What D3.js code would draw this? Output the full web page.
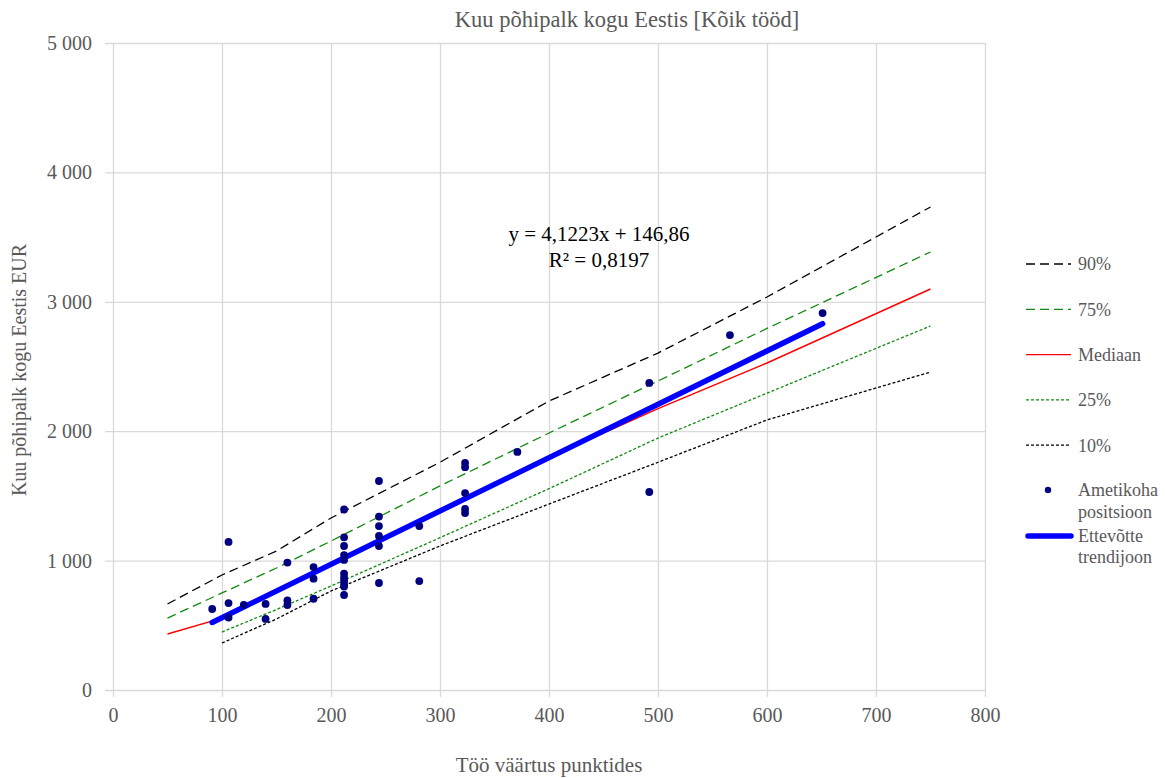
<!DOCTYPE html>
<html>
<head>
<meta charset="utf-8">
<script src="https://cdn.jsdelivr.net/npm/d3@7"></script>
<style>
  body { margin: 0; background: #fff; }
  text { font-family: "Palatino Linotype", "Book Antiqua", "Liberation Serif", serif; }
</style>
</head>
<body>
<svg id="chart" width="1165" height="778"></svg>
<script>

var percentX = [50, 100, 150, 200, 300, 400, 500, 600, 750];
var p90    = [665, 889, 1074, 1329, 1760, 2233, 2604, 3037, 3733];
var p75    = [556, 750, 943, 1151, 1577, 1986, 2388, 2794, 3385];
var median = [433, 556, 760, 975, 1380, 1795, 2175, 2527, 3099];
var p25    = [null, 448, 622, 804, 1177, 1556, 1947, 2294, 2813];
var p10    = [null, 363, 549, 765, 1113, 1437, 1760, 2087, 2457];

// company positions (job value, salary)
var jobX = [91, 106, 106, 106, 120, 140, 140, 160, 160, 160, 184, 184, 184,
  212, 212, 212, 212, 212, 212, 212, 212, 212, 212, 212,
  244, 244, 244, 244, 244, 244, 281, 281, 323, 323, 323, 323, 323,
  371, 492, 492, 566, 651];
var jobY = [626, 1144, 672, 560, 657, 665, 549, 985, 692, 657, 950, 860, 705,
  1395, 1180, 1113, 1043, 1005, 900, 870, 845, 820, 800, 734,
  1615, 1340, 1267, 1190, 1113, 827, 1267, 842, 1755, 1722, 1522, 1399, 1368,
  1840, 2373, 1530, 2743, 2913];

var trendSlope = 4.1223;
var trendIntercept = 146.86;
var trendLabel = ["y = 4,1223x + 146,86", "R² = 0,8197"];

var xTicks = [0, 100, 200, 300, 400, 500, 600, 700, 800];
var yTicks = [0, 1000, 2000, 3000, 4000, 5000];

var svg = d3.select("#chart");
var grey = "#595959";
var gridColor = "#d9d9d9";

var x = d3.scaleLinear().domain([0, 800]).range([113, 985]);
var y = d3.scaleLinear().domain([0, 5000]).range([690, 43]);

var fmt = function(d){ return d3.format(",")(d).replace(/,/g, " "); };

// grid + axes
var gy = svg.append("g")
  .attr("transform", "translate(113,0)")
  .call(d3.axisLeft(y).tickValues(yTicks).tickSize(-872).tickPadding(21).tickFormat(fmt));
gy.select(".domain").remove();
gy.selectAll("line").attr("x1", -8).attr("stroke", gridColor).attr("stroke-width", 1.3);
gy.selectAll("text").attr("fill", grey).attr("font-size", 20);

var gx = svg.append("g")
  .attr("transform", "translate(0,690)")
  .call(d3.axisBottom(x).tickValues(xTicks).tickSize(-647).tickPadding(18));
gx.select(".domain").remove();
gx.selectAll("line").attr("y1", 7).attr("stroke", gridColor).attr("stroke-width", 1.3);
gx.selectAll("text").attr("fill", grey).attr("font-size", 20);

// percentile lines
var series = [
  { name: "90%", values: p90, color: "#000", dash: "9,5", width: 1.3 },
  { name: "75%", values: p75, color: "#108a10", dash: "9,5", width: 1.3 },
  { name: "Mediaan", values: median, color: "#ff0000", dash: null, width: 1.4 },
  { name: "25%", values: p25, color: "#108a10", dash: "3,2", width: 1.3 },
  { name: "10%", values: p10, color: "#000", dash: "3,2", width: 1.3 }
];

var line = d3.line()
  .defined(function(d){ return d[1] != null; })
  .x(function(d){ return x(d[0]); })
  .y(function(d){ return y(d[1]); });

svg.append("g").selectAll("path")
  .data(series)
  .enter()
  .append("path")
    .attr("fill", "none")
    .attr("stroke", function(d){ return d.color; })
    .attr("stroke-width", function(d){ return d.width; })
    .attr("stroke-dasharray", function(d){ return d.dash; })
    .attr("d", function(d){ return line(d3.zip(percentX, d.values)); });

// company trend line
var tx = d3.extent(jobX);
svg.append("path")
  .attr("fill", "none")
  .attr("stroke", "#0000ff")
  .attr("stroke-width", 5.5)
  .attr("stroke-linecap", "round")
  .attr("d", line(tx.map(function(v){ return [v, trendSlope * v + trendIntercept]; })));

// positions
svg.append("g").selectAll("circle")
  .data(d3.zip(jobX, jobY))
  .enter()
  .append("circle")
    .attr("cx", function(d){ return x(d[0]); })
    .attr("cy", function(d){ return y(d[1]); })
    .attr("r", 3.9)
    .attr("fill", "#000080");

// trend equation
svg.append("g").selectAll("text")
  .data(trendLabel)
  .enter()
  .append("text")
    .attr("x", 599)
    .attr("y", function(d, i){ return 241 + i * 26; })
    .attr("text-anchor", "middle")
    .attr("font-size", 21)
    .attr("fill", "#000")
    .text(function(d){ return d; });

// titles
svg.append("text")
  .attr("x", 627).attr("y", 27)
  .attr("text-anchor", "middle")
  .attr("font-size", 22.5)
  .attr("fill", grey)
  .text("Kuu põhipalk kogu Eestis [Kõik tööd]");

svg.append("text")
  .attr("x", 549).attr("y", 772)
  .attr("text-anchor", "middle")
  .attr("font-size", 21)
  .attr("fill", grey)
  .text("Töö väärtus punktides");

svg.append("text")
  .attr("transform", "translate(26,370) rotate(-90)")
  .attr("text-anchor", "middle")
  .attr("font-size", 20)
  .attr("fill", grey)
  .text("Kuu põhipalk kogu Eestis EUR");

// legend
var lg = svg.append("g").attr("transform", "translate(1026,0)");
var rows = lg.selectAll("g.row")
  .data(series)
  .enter()
  .append("g")
    .attr("class", "row")
    .attr("transform", function(d, i){ return "translate(0," + (264 + i * 45.3) + ")"; });
rows.append("line")
  .attr("x1", 0).attr("x2", 45)
  .attr("stroke", function(d){ return d.color; })
  .attr("stroke-width", function(d){ return d.width; })
  .attr("stroke-dasharray", function(d){ return d.dash; });
rows.append("text")
  .attr("x", 52).attr("dy", "0.35em")
  .attr("font-size", 18)
  .attr("fill", grey)
  .text(function(d){ return d.name; });

lg.append("circle").attr("cx", 22).attr("cy", 490).attr("r", 3.2).attr("fill", "#000080");
lg.append("text").attr("x", 52).attr("y", 496).attr("font-size", 18).attr("fill", grey).text("Ametikoha");
lg.append("text").attr("x", 52).attr("y", 518).attr("font-size", 18).attr("fill", grey).text("positsioon");
lg.append("line").attr("x1", 2).attr("x2", 45).attr("y1", 536).attr("y2", 536)
  .attr("stroke", "#0000ff").attr("stroke-width", 5.5).attr("stroke-linecap", "round");
lg.append("text").attr("x", 52).attr("y", 542).attr("font-size", 18).attr("fill", grey).text("Ettevõtte");
lg.append("text").attr("x", 52).attr("y", 563).attr("font-size", 18).attr("fill", grey).text("trendijoon");

</script>
</body>
</html>
